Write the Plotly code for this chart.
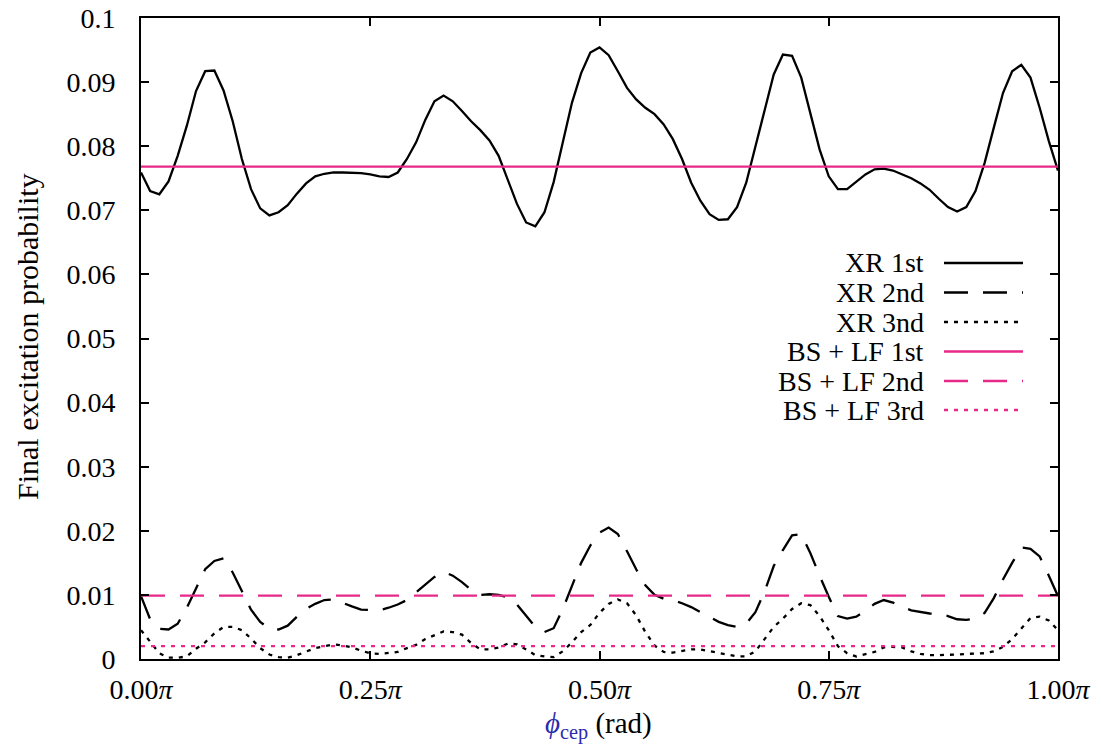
import plotly.graph_objects as go

# phase in units of pi
phi = [i / 100 for i in range(101)]

xr_1st = [0.0759, 0.0730, 0.0725, 0.0745, 0.0785, 0.0832, 0.0886, 0.0917, 0.0918, 0.0887,
          0.0839, 0.0780, 0.0733, 0.0703, 0.0692, 0.0697, 0.0708, 0.0726, 0.0742, 0.0753,
          0.0757, 0.0759, 0.0759, 0.0759, 0.0758, 0.0756, 0.0753, 0.0752, 0.0759, 0.0780,
          0.0806, 0.0841, 0.0870, 0.0879, 0.0870, 0.0855, 0.0839, 0.0825, 0.0809, 0.0785,
          0.0749, 0.0710, 0.0681, 0.0675, 0.0697, 0.0744, 0.0806, 0.0868, 0.0914, 0.0946,
          0.0954, 0.0942, 0.0917, 0.0891, 0.0873, 0.0860, 0.0850, 0.0834, 0.0811, 0.0780,
          0.0743, 0.0715, 0.0694, 0.0685, 0.0686, 0.0705, 0.0743, 0.0798, 0.0857, 0.0912,
          0.0943, 0.0941, 0.0907, 0.0852, 0.0795, 0.0753, 0.0733, 0.0733, 0.0744, 0.0756,
          0.0764, 0.0765, 0.0762, 0.0756, 0.0750, 0.0742, 0.0732, 0.0718, 0.0705, 0.0698,
          0.0705, 0.0730, 0.0774, 0.0829, 0.0883, 0.0917, 0.0927, 0.0907, 0.0860, 0.0808,
          0.0762]

xr_2nd = [0.0098, 0.0062, 0.0047, 0.0046, 0.0055, 0.0080, 0.0110, 0.0140, 0.0153, 0.0157,
          0.0135, 0.0105, 0.0077, 0.0058, 0.0047, 0.0046, 0.0052, 0.0066, 0.0078, 0.0086,
          0.0092, 0.0093, 0.0087, 0.0082, 0.0077, 0.0076, 0.0076, 0.0080, 0.0085, 0.0092,
          0.0104, 0.0115, 0.0128, 0.0136, 0.0130, 0.0120, 0.0108, 0.0100, 0.0101, 0.0100,
          0.0096, 0.0085, 0.0067, 0.0050, 0.0042, 0.0048, 0.0078, 0.0115, 0.0150, 0.0177,
          0.0197, 0.0205, 0.0195, 0.0168, 0.0140, 0.0115, 0.0100, 0.0094, 0.0092, 0.0087,
          0.0081, 0.0073, 0.0066, 0.0058, 0.0053, 0.0050, 0.0055, 0.0073, 0.0105, 0.0145,
          0.0170, 0.0193, 0.0195, 0.0165, 0.0130, 0.0097, 0.0067, 0.0063, 0.0066, 0.0075,
          0.0086, 0.0092, 0.0088, 0.0081, 0.0076, 0.0073, 0.0071, 0.0070, 0.0067, 0.0062,
          0.0061, 0.0063, 0.0072, 0.0095, 0.0124, 0.0150, 0.0174, 0.0172, 0.0160, 0.0130,
          0.0098]

xr_3rd = [0.0045, 0.0027, 0.0009, 0.0002, 0.0002, 0.0004, 0.0016, 0.0026, 0.0040, 0.0050,
          0.0050, 0.0045, 0.0032, 0.0017, 0.0007, 0.0003, 0.0002, 0.0006, 0.0012, 0.0017,
          0.0020, 0.0023, 0.0021, 0.0018, 0.0013, 0.0009, 0.0008, 0.0009, 0.0011, 0.0017,
          0.0022, 0.0031, 0.0037, 0.0043, 0.0042, 0.0038, 0.0025, 0.0015, 0.0015, 0.0018,
          0.0024, 0.0023, 0.0015, 0.0006, 0.0004, 0.0003, 0.0012, 0.0026, 0.0042, 0.0053,
          0.0072, 0.0086, 0.0093, 0.0087, 0.0068, 0.0042, 0.0021, 0.0011, 0.0010, 0.0013,
          0.0015, 0.0015, 0.0012, 0.0010, 0.0006, 0.0004, 0.0004, 0.0012, 0.0031, 0.0050,
          0.0063, 0.0078, 0.0087, 0.0084, 0.0067, 0.0045, 0.0020, 0.0009, 0.0004, 0.0008,
          0.0011, 0.0018, 0.0019, 0.0018, 0.0012, 0.0008, 0.0006, 0.0006, 0.0006, 0.0007,
          0.0008, 0.0008, 0.0009, 0.0012, 0.0019, 0.0031, 0.0048, 0.0064, 0.0066, 0.0060,
          0.0045]

# BS + LF results (constant in phase)
bs_phi = [0.0, 1.0]
bs_1st = [0.0768, 0.0768]
bs_2nd = [0.0099, 0.0099]
bs_3rd = [0.0020, 0.0020]

x_tickvals = [0, 0.25, 0.5, 0.75, 1.0]
x_ticktext = ["0.00<i>π</i>", "0.25<i>π</i>", "0.50<i>π</i>", "0.75<i>π</i>", "1.00<i>π</i>"]
y_tickvals = [0, 0.01, 0.02, 0.03, 0.04, 0.05, 0.06, 0.07, 0.08, 0.09, 0.1]
y_ticktext = ["0", "0.01", "0.02", "0.03", "0.04", "0.05", "0.06", "0.07", "0.08", "0.09", "0.1"]

legend_labels = ["XR 1st", "XR 2nd", "XR 3nd", "BS + LF 1st", "BS + LF 2nd", "BS + LF 3rd"]

PINK = "#e7298a"
BLACK = "#000000"
DASH = "24px,15px"
DOT = "4px,6px"
FONT = "Liberation Serif"

series = [
    (phi, xr_1st, BLACK, "solid"),
    (phi, xr_2nd, BLACK, DASH),
    (phi, xr_3rd, BLACK, DOT),
    (bs_phi, bs_1st, PINK, "solid"),
    (bs_phi, bs_2nd, PINK, DASH),
    (bs_phi, bs_3rd, PINK, DOT),
]

fig = go.Figure()
for (xs, ys, col, dash), name in zip(series, legend_labels):
    fig.add_trace(go.Scatter(x=xs, y=ys, mode="lines", name=name,
                             line=dict(color=col, width=2.3, dash=dash),
                             showlegend=False))

OFF = 8  # page body margin
W, H = 1101 - OFF, 753 - OFF
L, T = 141 - OFF, 18 - OFF
pw, ph = 917, 641
R, B = W - L - pw, H - T - ph

def px_to_paper_x(px):
    return (px - OFF - L) / pw

def px_to_paper_y(py):
    return (T + ph - (py - OFF)) / ph

# gnuplot-style key: right-aligned text, sample line to the right
row_y = [263, 292.5, 322, 351.5, 381, 410]
for (xs, ys, col, dash), name, ry in zip(series, legend_labels, row_y):
    fig.add_annotation(x=px_to_paper_x(926), y=px_to_paper_y(ry), xref="paper", yref="paper",
                       text=name, showarrow=False, xanchor="right", yanchor="middle",
                       font=dict(family=FONT, size=28, color="black"))
    fig.add_shape(type="line", xref="paper", yref="paper",
                  x0=px_to_paper_x(944), x1=px_to_paper_x(1023),
                  y0=px_to_paper_y(ry), y1=px_to_paper_y(ry),
                  line=dict(color=col, width=2.3, dash=dash))

# axis titles
fig.add_annotation(x=px_to_paper_x(27), y=px_to_paper_y(337), xref="paper", yref="paper",
                   text="Final excitation probability", textangle=-90, showarrow=False,
                   xanchor="center", yanchor="middle",
                   font=dict(family=FONT, size=30, color="black"))
fig.add_annotation(x=px_to_paper_x(598), y=px_to_paper_y(726), xref="paper", yref="paper",
                   text="<span style='color:#2b2bb0'><i>ϕ</i><sub>cep</sub></span> (rad)",
                   showarrow=False, xanchor="center", yanchor="middle",
                   font=dict(family=FONT, size=29, color="black"))

axis_common = dict(showline=True, linecolor="black", linewidth=2, mirror="allticks",
                   ticks="inside", ticklen=8, tickwidth=1.5, tickcolor="black",
                   showgrid=False, zeroline=False, automargin=False,
                   ticklabeloverflow="allow",
                   tickfont=dict(family=FONT, size=28, color="black"))

fig.update_xaxes(range=[0, 1], tickvals=x_tickvals, ticktext=x_ticktext,
                 ticklabelstandoff=4, **axis_common)
fig.update_yaxes(range=[0, 0.1], tickvals=y_tickvals, ticktext=y_ticktext,
                 ticklabelstandoff=18, **axis_common)

fig.update_layout(width=W, height=H, margin=dict(l=L, r=R, t=T, b=B, pad=0),
                  plot_bgcolor="white", paper_bgcolor="white", showlegend=False)

fig.write_html("out.html")
